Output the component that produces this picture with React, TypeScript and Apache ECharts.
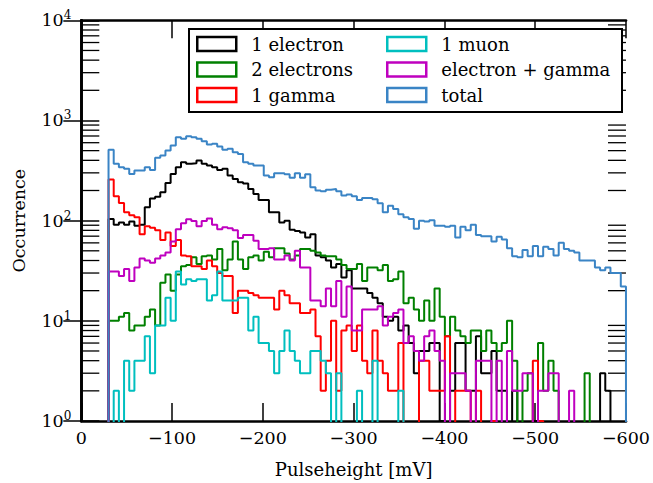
import React, { useEffect, useRef } from 'react';
import * as echarts from 'echarts';

// Histogram binning (mV): 100 bins from -30 to -600
const BIN_START = -30;
const BIN_WIDTH = 5.7;

// Axis ranges / ticks
const X_MIN = -600;
const X_MAX = 0;
const X_TICK = 100;
const Y_MIN = 1;
const Y_MAX = 10000;
const Y_MINOR_TICKS = [
  2, 3, 4, 5, 6, 7, 8, 9,
  20, 30, 40, 50, 60, 70, 80, 90,
  200, 300, 400, 500, 600, 700, 800, 900,
  2000, 3000, 4000, 5000, 6000, 7000, 8000, 9000,
];

// Counts per bin
const oneElectron = [
  104, 91, 96, 91, 98, 89, 91, 136, 166, 173,
  192, 237, 293, 342, 383, 369, 375, 398, 369, 355,
  342, 321, 330, 282, 261, 242, 235, 207, 185, 161,
  161, 121, 121, 96, 100, 81, 79, 76, 68, 73,
  45, 43, 40, 34, 37, 27, 32, 21, 21, 21,
  19, 17, 15, 11, 10, 11, 8, 9, 6, 3,
  5, 5, 6, 6, 1, 0, 2, 6, 6, 2,
  2, 7, 3, 3, 5, 2, 2, 0, 2, 0,
  0, 0, 1, 0, 0, 0, 0, 0, 0, 0,
  0, 0, 0, 0, 0, 3, 2, 0, 0, 0,
];

const twoElectrons = [
  10, 10, 11, 12, 8, 9, 9, 11, 13, 9,
  24, 29, 20, 29, 35, 36, 43, 37, 44, 45,
  41, 52, 32, 41, 62, 41, 33, 43, 45, 40,
  49, 43, 53, 53, 47, 41, 45, 52, 52, 50,
  48, 45, 44, 44, 41, 36, 33, 33, 37, 25,
  34, 34, 32, 36, 25, 26, 31, 15, 17, 13,
  10, 16, 10, 21, 11, 7, 11, 8, 7, 6,
  8, 8, 5, 8, 6, 5, 6, 10, 4, 0,
  2, 3, 0, 6, 2, 4, 2, 0, 0, 0,
  0, 0, 3, 0, 0, 0, 0, 0, 0, 0,
];

const oneGamma = [
  258, 175, 150, 121, 113, 108, 73, 88, 85, 80,
  64, 76, 56, 64, 45, 44, 35, 35, 33, 40,
  35, 30, 28, 28, 12, 20, 20, 19, 18, 17,
  17, 17, 13, 20, 18, 15, 15, 12, 12, 13,
  7, 2, 4, 10, 2, 8, 9, 5, 9, 4,
  3, 8, 4, 3, 2, 2, 6, 0, 0, 0,
  4, 4, 2, 2, 2, 7, 0, 2, 2, 2,
  0, 2, 0, 0, 1, 0, 0, 0, 0, 0,
  0, 0, 4, 1, 0, 0, 0, 0, 0, 0,
  0, 0, 0, 0, 0, 0, 0, 0, 0, 0,
];

const oneMuon = [
  0, 2, 0, 4, 2, 4, 4, 7, 3, 9,
  9, 17, 10, 31, 23, 26, 25, 26, 26, 16,
  18, 31, 16, 16, 16, 17, 17, 8, 11, 6,
  6, 5, 3, 5, 8, 5, 4, 3, 3, 5,
  5, 4, 3, 0, 3, 0, 0, 0, 2, 0,
  0, 4, 0, 0, 0, 0, 2, 0, 0, 0,
  0, 0, 0, 0, 0, 0, 0, 0, 0, 0,
  0, 0, 0, 0, 0, 0, 0, 0, 0, 0,
  0, 0, 0, 0, 0, 0, 0, 0, 0, 0,
  0, 0, 0, 0, 0, 0, 0, 0, 0, 0,
];

const electronGamma = [
  31, 31, 28, 33, 25, 34, 42, 40, 38, 42,
  45, 48, 62, 82, 94, 103, 99, 88, 99, 105,
  91, 82, 86, 84, 80, 67, 72, 72, 63, 52,
  52, 53, 41, 41, 45, 40, 50, 34, 34, 16,
  16, 14, 21, 14, 25, 11, 22, 8, 8, 13,
  13, 13, 14, 9, 11, 12, 13, 6, 7, 5,
  4, 7, 8, 5, 4, 0, 3, 3, 3, 2,
  0, 4, 4, 4, 0, 4, 0, 5, 2, 2,
  3, 3, 0, 2, 2, 3, 3, 0, 0, 2,
  0, 0, 0, 0, 0, 0, 0, 0, 0, 0,
];

const total = [
  510, 369, 342, 329, 293, 316, 316, 342, 321, 424,
  447, 501, 562, 681, 656, 697, 681, 656, 621, 575,
  585, 550, 510, 521, 482, 464, 383, 369, 355, 355,
  282, 271, 297, 297, 290, 268, 297, 268, 290, 215,
  200, 196, 204, 207, 196, 178, 182, 175, 161, 168,
  168, 164, 149, 121, 141, 131, 116, 108, 104, 83,
  100, 98, 101, 89, 89, 87, 89, 68, 87, 80,
  91, 72, 70, 70, 62, 69, 65, 53, 44, 43,
  51, 44, 56, 44, 55, 52, 45, 60, 52, 50,
  48, 40, 40, 40, 34, 32, 34, 30, 30, 22,
];

const SERIES_NAMES = ['1 electron', '2 electrons', '1 gamma', '1 muon', 'electron + gamma', 'total'];
const SERIES_DATA = [oneElectron, twoElectrons, oneGamma, oneMuon, electronGamma, total];
const SERIES_COLORS = ['#000000', '#008000', '#ff0000', '#00bfbf', '#bf00bf', '#3a84c5'];
const LEGEND_COL1 = [0, 1, 2];
const LEGEND_COL2 = [3, 4, 5];

const FONT = "'DejaVu Serif', 'DejaVu Sans', sans-serif";
const FLOOR = 0.01; // empty bins fall below the log axis (clipped)
const TICK_LEN = 18;

function stepPoints(counts: number[]): number[][] {
  const edge = (i: number) => BIN_START - i * BIN_WIDTH;
  const pts: number[][] = [[edge(0), FLOOR]];
  counts.forEach((c, i) => {
    const v = c > 0 ? c : FLOOR;
    pts.push([edge(i), v]);
    pts.push([edge(i + 1), v]);
  });
  pts.push([edge(counts.length), FLOOR]);
  return pts;
}

function buildOption(): any {
  const axisLine = { show: true, lineStyle: { color: '#000', width: 2.7 } };
  const axisTick = { show: true, inside: true, length: TICK_LEN, lineStyle: { color: '#000', width: 1.5 } };

  const xCommon = {
    type: 'value',
    min: X_MIN,
    max: X_MAX,
    interval: X_TICK,
    inverse: true,
    axisLine,
    axisTick,
    splitLine: { show: false },
  };
  const yCommon = {
    type: 'log',
    logBase: 10,
    min: Y_MIN,
    max: Y_MAX,
    axisLine,
    axisTick,
    splitLine: { show: false },
    minorTick: { show: false },
  };

  const legendItems = (idx: number[]) =>
    idx.map((i) => ({
      name: SERIES_NAMES[i],
      itemStyle: { color: '#ffffff', borderColor: SERIES_COLORS[i], borderWidth: 2.5 },
    }));

  const legendCommon = {
    orient: 'vertical',
    icon: 'rect',
    itemWidth: 39,
    itemHeight: 14,
    itemGap: 5.5,
    selectedMode: false,
    padding: 5,
    textStyle: { fontFamily: FONT, fontSize: 18, color: '#000', lineHeight: 20, padding: [0, 0, 0, 10] },
  };

  return {
    animation: false,
    backgroundColor: '#ffffff',
    textStyle: { fontFamily: FONT },
    grid: { left: 81.3, right: 26.5, top: 20.3, bottom: 61, containLabel: false },
    xAxis: [
      {
        ...xCommon,
        position: 'bottom',
        name: 'Pulseheight [mV]',
        nameLocation: 'middle',
        nameGap: 39,
        nameTextStyle: { fontFamily: FONT, fontSize: 18, color: '#000' },
        axisLabel: {
          show: true,
          margin: 8,
          fontFamily: FONT,
          fontSize: 17.5,
          color: '#000',
          formatter: (v: number) => (v === 0 ? '0' : (v < 0 ? '\u2212' : '') + Math.abs(v)),
        },
      },
      { ...xCommon, position: 'top', axisLabel: { show: false } },
    ],
    yAxis: [
      {
        ...yCommon,
        position: 'left',
        name: 'Occurrence',
        nameLocation: 'middle',
        nameGap: 53,
        nameTextStyle: { fontFamily: FONT, fontSize: 17.5, color: '#000' },
        axisLabel: {
          show: true,
          margin: 10,
          formatter: (v: number) => `{b|10}{s|${Math.round(Math.log10(v))}}`,
          rich: {
            b: { fontFamily: FONT, fontSize: 17.5, color: '#000' },
            s: { fontFamily: FONT, fontSize: 12, color: '#000', padding: [0, 0, 10, 0] },
          },
        },
      },
      { ...yCommon, position: 'right', axisLabel: { show: false } },
    ],
    legend: [
      { ...legendCommon, left: 191, top: 29, data: legendItems(LEGEND_COL1) },
      { ...legendCommon, left: 381, top: 29, data: legendItems(LEGEND_COL2) },
    ],
    graphic: {
      elements: [
        {
          type: 'rect',
          z: 3,
          shape: { x: 189, y: 29, width: 433, height: 83 },
          style: { fill: '#ffffff', stroke: '#000000', lineWidth: 2 },
          silent: true,
        },
      ],
    },
    series: [
      ...SERIES_DATA.map((counts, i) => ({
        name: SERIES_NAMES[i],
        type: 'line',
        xAxisIndex: 0,
        yAxisIndex: 0,
        data: stepPoints(counts),
        showSymbol: false,
        symbol: 'none',
        clip: true,
        color: SERIES_COLORS[i],
        lineStyle: { color: SERIES_COLORS[i], width: 2 },
        emphasis: { disabled: true },
        z: 2,
      })),
      {
        type: 'custom',
        xAxisIndex: 0,
        yAxisIndex: 0,
        silent: true,
        clip: false,
        z: 2,
        data: Y_MINOR_TICKS.map((v) => [X_MAX, v]),
        renderItem: (_params: any, api: any) => {
          const v = api.value(1);
          const l = api.coord([X_MAX, v]);
          const r = api.coord([X_MIN, v]);
          const style = { stroke: '#000', lineWidth: 1.3 };
          return {
            type: 'group',
            children: [
              { type: 'line', shape: { x1: l[0], y1: l[1], x2: l[0] + TICK_LEN, y2: l[1] }, style },
              { type: 'line', shape: { x1: r[0] - TICK_LEN, y1: r[1], x2: r[0], y2: r[1] }, style },
            ],
          };
        },
      },
    ],
  };
}

export default function App() {
  const ref = useRef<HTMLDivElement>(null);
  useEffect(() => {
    if (!ref.current) return;
    const chart = echarts.init(ref.current, null, { renderer: 'svg' });
    chart.setOption(buildOption());
    return () => chart.dispose();
  }, []);
  return (
    <div
      ref={ref}
      style={{ position: 'absolute', left: 0, top: 0, width: 653, height: 483, background: '#fff' }}
    />
  );
}
